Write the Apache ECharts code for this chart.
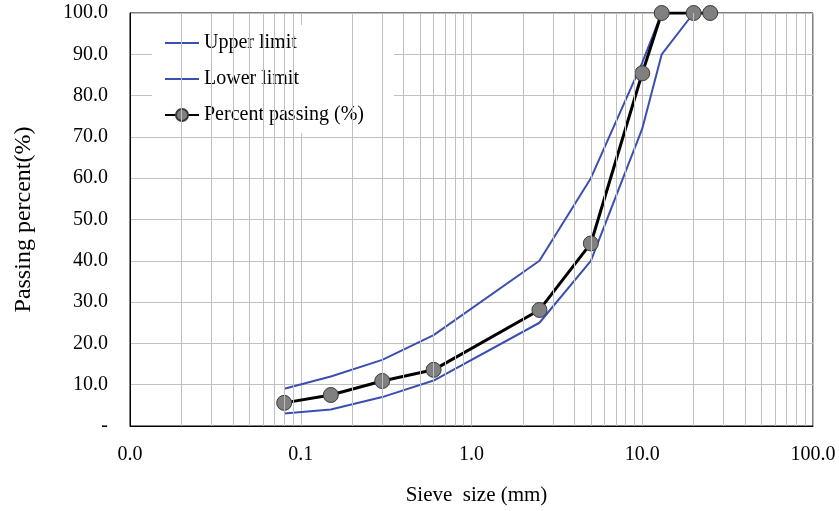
<!DOCTYPE html>
<html>
<head>
<meta charset="utf-8">
<script src="https://cdn.jsdelivr.net/npm/echarts@6/dist/echarts.min.js"></script>
<style>
html,body{margin:0;padding:0;background:#fff;}
#chart{width:839px;height:511px;}
</style>
</head>
<body>
<div id="chart"></div>
<script>
// ---- Data ----
var sieveSizes     = [0.08, 0.15, 0.3, 0.6, 2.5, 5, 10, 13, 20, 25];
var upperLimit     = [9, 12, 16, 22, 40, 60, 88, 100, null, null];
var lowerLimit     = [3, 4, 7, 11, 25, 40, 72, 90, 100, null];
var percentPassing = [5.6, 7.5, 10.9, 13.6, 28.1, 44.2, 85.4, 100, 100, 100];
var xTickValues    = [0.01, 0.1, 1, 10, 100];
var yTickValues    = [0, 10, 20, 30, 40, 50, 60, 70, 80, 90, 100];

function pairs(xs, ys) {
  var out = [];
  for (var i = 0; i < xs.length; i++) {
    if (ys[i] !== null && ys[i] !== undefined) out.push([xs[i], ys[i]]);
  }
  return out;
}

// minor log grid lines (2..9 within each decade)
var minorLines = [];
for (var d = 0; d < xTickValues.length - 1; d++) {
  for (var m = 2; m <= 9; m++) {
    minorLines.push({ xAxis: xTickValues[d] * m });
  }
}

var FONT = 'Liberation Serif';
var chart = echarts.init(document.getElementById('chart'));
var blue = '#3A4FB0';
var lineIcon = 'path://M0,0 L170,0 L170,10 L0,10 Z';

chart.setOption({
  animation: false,
  backgroundColor: '#fff',
  textStyle: { fontFamily: FONT, color: '#000' },
  grid: {
    left: 130, right: 26, top: 13, bottom: 84,
    show: true, borderColor: '#000', borderWidth: 1, backgroundColor: 'transparent'
  },
  legend: {
    orient: 'vertical',
    left: 152, top: 25,
    backgroundColor: '#fff',
    padding: [8, 30, 8, 12],
    itemGap: 16,
    itemWidth: 34,
    itemHeight: 15,
    symbolKeepAspect: true,
    textStyle: { fontFamily: FONT, fontSize: 20, color: '#000' },
    data: [
      { name: 'Upper limit', icon: lineIcon },
      { name: 'Lower limit', icon: lineIcon },
      { name: 'Percent passing (%)' }
    ]
  },
  xAxis: {
    type: 'log',
    logBase: 10,
    min: 0.01, max: 100,
    name: 'Sieve  size (mm)',
    nameLocation: 'middle',
    nameGap: 59,
    nameTextStyle: { fontFamily: FONT, fontSize: 21, color: '#000', padding: [0, 0, 0, 10] },
    axisLine: { show: true, lineStyle: { color: '#000', width: 1 } },
    axisTick: { show: false },
    axisLabel: {
      fontFamily: FONT, fontSize: 20, color: '#000', margin: 19,
      formatter: function (v) { return Number(v).toFixed(1); }
    },
    splitLine: { show: true, lineStyle: { color: '#BFBFBF', width: 1 } }
  },
  yAxis: {
    type: 'value',
    min: 0, max: 100, interval: 10,
    name: 'Passing percent(%)',
    nameLocation: 'middle',
    nameGap: 94,
    nameTextStyle: { fontFamily: FONT, fontSize: 24, color: '#000' },
    axisLine: { show: true, lineStyle: { color: '#000', width: 1 } },
    axisTick: { show: false },
    axisLabel: {
      fontFamily: FONT, fontSize: 20, color: '#000', margin: 22,
      formatter: function (v) { return v === 0 ? '-' : Number(v).toFixed(1); }
    },
    splitLine: { show: true, lineStyle: { color: '#BFBFBF', width: 1 } }
  },
  series: [
    {
      name: 'gridMinor',
      type: 'line',
      data: [],
      silent: true,
      z: 0,
      markLine: {
        silent: true,
        symbol: 'none',
        label: { show: false },
        animation: false,
        lineStyle: { color: '#BFBFBF', width: 1, type: 'solid' },
        data: minorLines
      }
    },
    {
      name: 'Upper limit',
      type: 'line',
      data: pairs(sieveSizes, upperLimit),
      symbol: 'none',
      showSymbol: false,
      lineStyle: { color: blue, width: 2 },
      itemStyle: { color: blue },
      z: 3
    },
    {
      name: 'Lower limit',
      type: 'line',
      data: pairs(sieveSizes, lowerLimit),
      symbol: 'none',
      showSymbol: false,
      lineStyle: { color: blue, width: 2 },
      itemStyle: { color: blue },
      z: 3
    },
    {
      name: 'Percent passing (%)',
      type: 'line',
      data: pairs(sieveSizes, percentPassing),
      symbol: 'circle',
      symbolSize: 15,
      lineStyle: { color: '#000', width: 3 },
      itemStyle: { color: '#808080', borderColor: '#3a3a3a', borderWidth: 1 },
      z: 4
    }
  ]
});
</script>
</body>
</html>
